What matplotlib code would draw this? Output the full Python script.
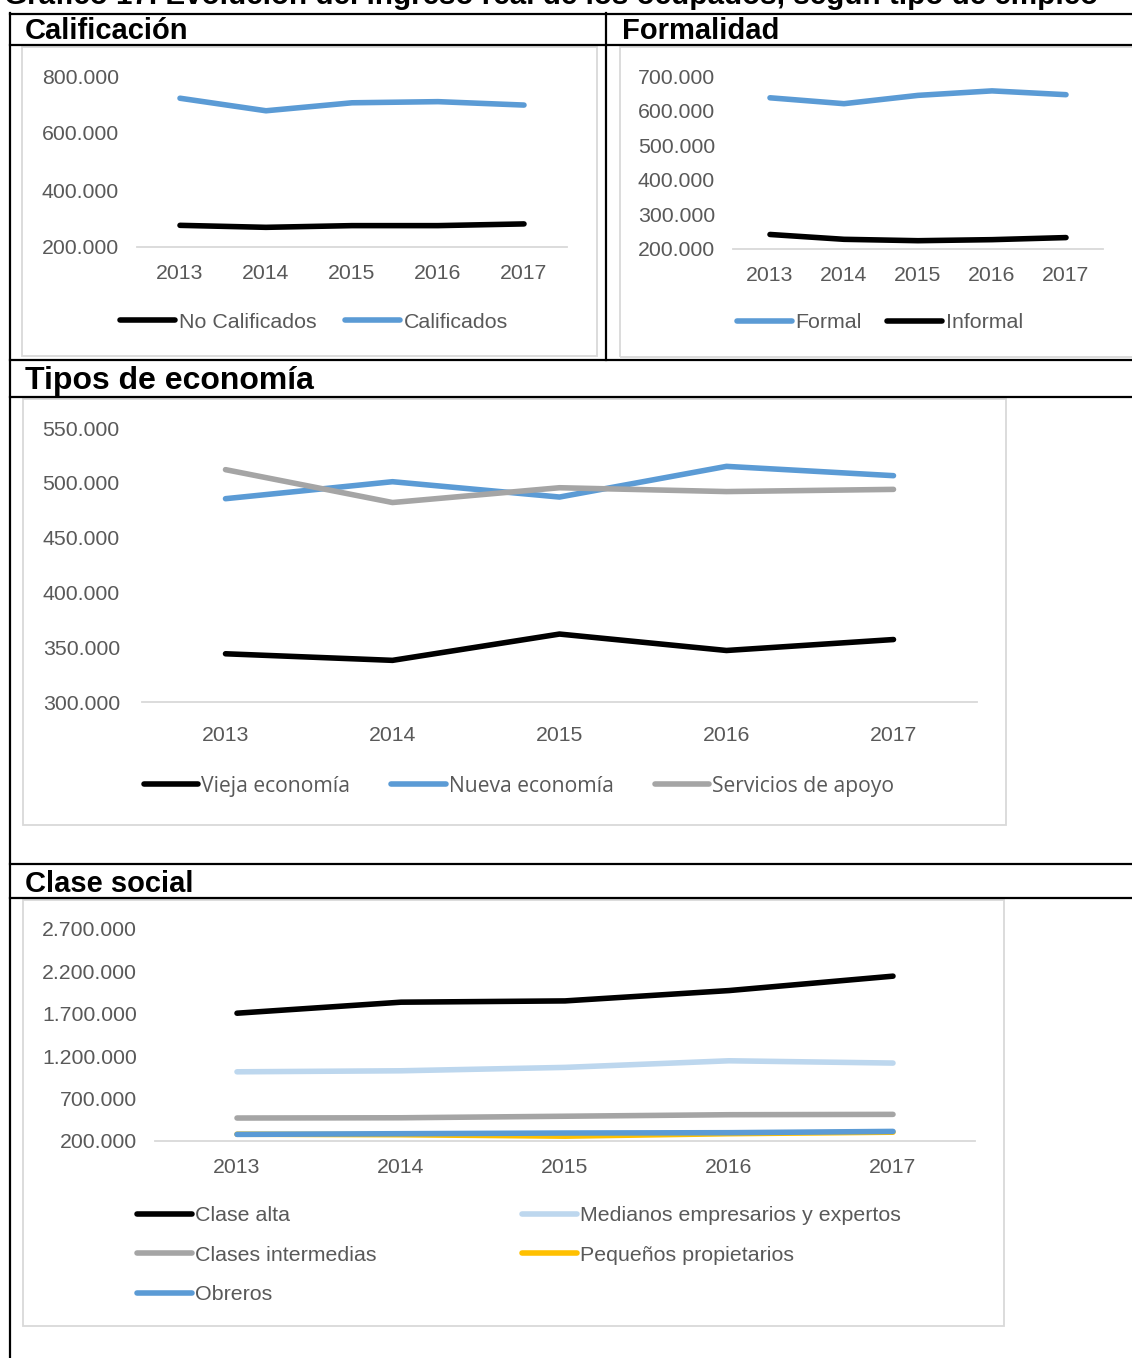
import matplotlib
matplotlib.use("Agg")
import matplotlib.pyplot as plt
from matplotlib.lines import Line2D
from matplotlib.patches import Rectangle
from matplotlib.ticker import FuncFormatter

plt.rcParams['font.family'] = ['Liberation Sans', 'DejaVu Sans']

years = ["2013", "2014", "2015", "2016", "2017"]

# Calificación
no_calificados = [276000, 269000, 275000, 275000, 281000]
calificados = [722000, 678000, 706000, 710000, 698000]

# Formalidad
formal = [637000, 620000, 644000, 657000, 646000]
informal = [242000, 228000, 224000, 227000, 233000]

# Tipos de economía
vieja = [344000, 338000, 362000, 347000, 357000]
nueva = [485500, 501000, 487000, 515000, 506500]
servicios = [512000, 482000, 495500, 492000, 494000]

# Clase social
clase_alta = [1707000, 1837000, 1852000, 1974000, 2144000]
medianos = [1016000, 1028000, 1068000, 1146000, 1119000]
intermedias = [471000, 474000, 492000, 510000, 514000]
pequenos = [280000, 274000, 257000, 286000, 304000]
obreros = [278000, 286000, 294000, 298000, 313000]

BLACK = "#000000"
BLUE = "#5b9bd5"
GRAY = "#a5a5a5"
LIGHTBLUE = "#bdd7ee"
YELLOW = "#ffc000"
TXT = "#595959"

W, H = 1132, 1358
fig = plt.figure(figsize=(W / 100, H / 100), dpi=100)


def fx(x):
    return x / W


def fy(y):
    return 1 - y / H


def pbox(l, t, r, b):
    return [l / W, 1 - b / H, (r - l) / W, (b - t) / H]


def hline(y, x0=10, x1=W + 5):
    fig.add_artist(Line2D([fx(x0), fx(x1)], [fy(y), fy(y)], color="black", lw=1.6))


def vline(x, y0, y1):
    fig.add_artist(Line2D([fx(x), fx(x)], [fy(y0), fy(y1)], color="black", lw=1.6))


def chart_frame(l, t, r, b):
    fig.add_artist(Rectangle((fx(l), fy(b)), fx(r) - fx(l), fy(t) - fy(b),
                             fill=False, edgecolor="#d9d9d9", lw=1.3))


def dots(v, pos):
    return f"{v:,.0f}".replace(",", ".")


def line_axes(rect, ymin, ymax, step, series):
    ax = fig.add_axes(pbox(*rect))
    x = range(len(years))
    for vals, color, label in series:
        ax.plot(x, vals, color=color, lw=4.0, label=label, solid_capstyle="round",
                solid_joinstyle="round")
    ax.set_xlim(-0.5, len(years) - 0.5)
    ax.set_ylim(ymin, ymax)
    ax.set_yticks(range(ymin, ymax + 1, step))
    ax.yaxis.set_major_formatter(FuncFormatter(dots))
    ax.set_xticks(list(x))
    ax.set_xticklabels(years)
    for s in ["top", "right", "left"]:
        ax.spines[s].set_visible(False)
    ax.spines["bottom"].set_color("#d9d9d9")
    ax.spines["bottom"].set_linewidth(1.3)
    ax.spines["bottom"].set_zorder(0)
    ax.tick_params(length=0, labelsize=15.3, colors=TXT, pad=13)
    ax.tick_params(axis="x", pad=12)
    ax.patch.set_alpha(0)
    return ax


# table borders
hline(13.5, x0=10)
vline(10, 13, H + 5)
vline(606, 13, 360)
hline(45)
hline(360)
hline(397)
hline(864)
hline(898)

fig.text(fx(4), fy(4), "Gráfico 17. Evolución del ingreso real de los ocupados, según tipo de empleo",
         fontsize=21.3, weight="bold", va="baseline", ha="left")
fig.text(fx(25), fy(39), "Calificación", fontsize=21, weight="bold", va="baseline")
fig.text(fx(622), fy(39), "Formalidad", fontsize=21, weight="bold", va="baseline")
fig.text(fx(25), fy(389), "Tipos de economía", fontsize=23, weight="bold", va="baseline")
fig.text(fx(25), fy(892), "Clase social", fontsize=21, weight="bold", va="baseline")

chart_frame(22, 47, 597, 356)
chart_frame(620, 47, W + 10, 357)
chart_frame(23, 399, 1006, 825)
chart_frame(23, 900, 1004, 1326)

leg_kw = dict(frameon=False, fontsize=15.4, handlelength=2.57, handletextpad=0.15,
              labelcolor=TXT, borderaxespad=0, borderpad=0)

ax1 = line_axes((137, 76, 567, 247), 200000, 800000, 200000,
                [(no_calificados, BLACK, "No Calificados"),
                 (calificados, BLUE, "Calificados")])
ax1.legend(loc="center", bbox_to_anchor=(fx(314), fy(322)), bbox_transform=fig.transFigure,
           ncol=2, columnspacing=1.36, **leg_kw)

ax2 = line_axes((733, 76, 1103, 249), 200000, 700000, 100000,
                [(informal, BLACK, "Informal"),
                 (formal, BLUE, "Formal")])
h, l = ax2.get_legend_handles_labels()
ax2.legend(h[::-1], l[::-1], loc="center", bbox_to_anchor=(fx(880), fy(323)),
           bbox_transform=fig.transFigure, ncol=2, columnspacing=1.2, **leg_kw)

ax3 = line_axes((142, 428, 977, 702), 300000, 550000, 50000,
                [(vieja, BLACK, "Vieja economía"),
                 (nueva, BLUE, "Nueva economía"),
                 (servicios, GRAY, "Servicios de apoyo")])
ax3.tick_params(axis="y", pad=16)
ax3.tick_params(axis="x", pad=17)
leg3 = dict(leg_kw)
leg3["prop"] = {"family": "Open Sans", "size": 15.2}
leg3.pop("fontsize")
ax3.legend(loc="center", bbox_to_anchor=(fx(519), fy(786)), bbox_transform=fig.transFigure,
           ncol=3, columnspacing=1.95, **leg3)

ax4 = line_axes((155, 929, 975, 1141), 200000, 2700000, 500000,
                [(clase_alta, BLACK, "Clase alta"),
                 (medianos, LIGHTBLUE, "Medianos empresarios y expertos"),
                 (intermedias, GRAY, "Clases intermedias"),
                 (pequenos, YELLOW, "Pequeños propietarios"),
                 (obreros, BLUE, "Obreros")])
h, l = ax4.get_legend_handles_labels()
order = [0, 2, 4, 1, 3]
ax4.legend([h[i] for i in order], [l[i] for i in order], loc="upper left",
           bbox_to_anchor=(fx(137), fy(1206)), bbox_transform=fig.transFigure,
           ncol=2, columnspacing=6.8, labelspacing=0.96, **leg_kw)

fig.savefig("out.png", dpi=100)
